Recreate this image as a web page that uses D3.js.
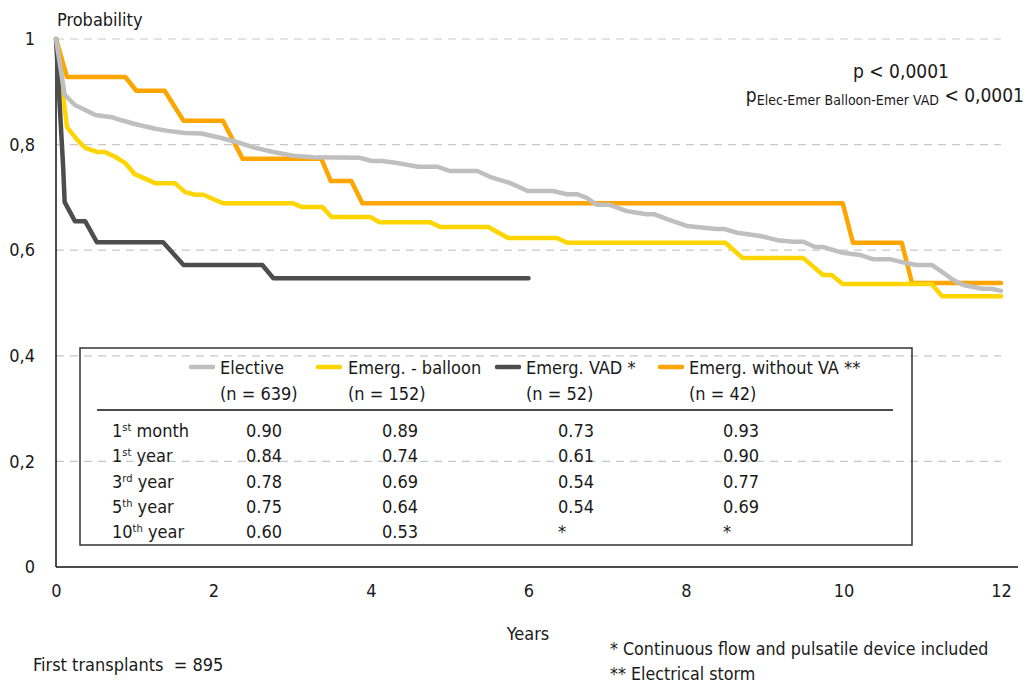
<!DOCTYPE html>
<html>
<head>
<meta charset="utf-8">
<script src="https://cdn.jsdelivr.net/npm/d3@7"></script>
<style>
  body { margin: 0; background: #fff; }
  svg text { font-family: 'Liberation Sans Narrow', 'Arial Narrow', 'DejaVu Sans Condensed', sans-serif; fill: #1a1a1a; white-space: pre; }
</style>
</head>
<body>
<div id="chart"></div>
<script>
// survival curves, [years, probability]
var elective = [[0,1],[0.11,0.894],[0.24,0.875],[0.5,0.856],[0.71,0.852],[0.81,0.847],[1.0,0.839],[1.26,0.83],[1.42,0.826],[1.64,0.822],[1.85,0.821],[2.11,0.812],[2.34,0.803],[2.5,0.795],[2.76,0.786],[3.01,0.779],[3.27,0.776],[3.86,0.775],[4.01,0.769],[4.14,0.769],[4.33,0.765],[4.6,0.758],[4.85,0.758],[5.0,0.75],[5.35,0.75],[5.51,0.739],[5.77,0.727],[5.99,0.712],[6.31,0.712],[6.49,0.706],[6.62,0.706],[6.74,0.699],[6.87,0.686],[7.03,0.686],[7.25,0.674],[7.42,0.67],[7.5,0.668],[7.6,0.668],[7.76,0.659],[8.01,0.646],[8.39,0.64],[8.49,0.64],[8.65,0.633],[8.94,0.627],[9.16,0.619],[9.36,0.616],[9.49,0.616],[9.64,0.606],[9.74,0.606],[9.99,0.595],[10.21,0.591],[10.37,0.583],[10.59,0.583],[10.78,0.576],[10.93,0.572],[11.12,0.572],[11.25,0.559],[11.39,0.544],[11.52,0.534],[11.76,0.527],[11.88,0.527],[12.0,0.523]];
var balloon = [[0,1],[0.14,0.833],[0.27,0.809],[0.37,0.794],[0.52,0.786],[0.62,0.786],[0.75,0.777],[0.88,0.765],[1.0,0.744],[1.26,0.727],[1.51,0.727],[1.64,0.71],[1.77,0.705],[1.87,0.705],[2.12,0.689],[3.0,0.689],[3.12,0.682],[3.38,0.682],[3.5,0.663],[3.99,0.663],[4.11,0.653],[4.75,0.653],[4.88,0.644],[5.49,0.644],[5.74,0.623],[6.36,0.623],[6.49,0.614],[8.5,0.614],[8.72,0.585],[9.49,0.585],[9.74,0.553],[9.85,0.553],[9.99,0.536],[11.12,0.536],[11.25,0.513],[12.0,0.513]];
var vad = [[0,1],[0.09,0.76],[0.11,0.691],[0.24,0.655],[0.37,0.655],[0.52,0.615],[1.36,0.615],[1.62,0.572],[2.62,0.572],[2.76,0.547],[6.0,0.547]];
var withoutVA = [[0,1],[0.14,0.928],[0.88,0.928],[1.02,0.902],[1.38,0.902],[1.62,0.845],[2.12,0.845],[2.37,0.773],[3.37,0.773],[3.49,0.731],[3.75,0.731],[3.89,0.689],[9.99,0.689],[10.12,0.614],[10.74,0.614],[10.87,0.538],[12.0,0.538]];

var xTicks = [0,2,4,6,8,10,12];
var yTicks = [0,0.2,0.4,0.6,0.8,1];

// legend / table
var groupNames = ["Elective","Emerg. - balloon","Emerg. VAD *","Emerg. without VA **"];
var groupCounts = ["(n = 639)","(n = 152)","(n = 52)","(n = 42)"];
var rowLabels = [["1","st"," month"],["1","st"," year"],["3","rd"," year"],["5","th"," year"],["10","th"," year"]];
var electiveRates = ["0.90","0.84","0.78","0.75","0.60"];
var balloonRates = ["0.89","0.74","0.69","0.64","0.53"];
var vadRates = ["0.73","0.61","0.54","0.54","*"];
var withoutVARates = ["0.93","0.90","0.77","0.69","*"];

var width = 1027, height = 684;
var colors = ["#bfbfbf","#ffd500","#4d4d4d","#ffa500"];

var svg = d3.select("#chart").append("svg")
  .attr("width", width)
  .attr("height", height);

var x = d3.scaleLinear().domain([0,12]).range([56,1001]);
var y = d3.scaleLinear().domain([0,1]).range([567,39]);

// dashed grid
svg.append("g")
  .selectAll("line")
  .data(yTicks.filter(function(d){ return d > 0; }))
  .enter()
  .append("line")
  .attr("x1", x(0))
  .attr("x2", x(12))
  .attr("y1", function(d){ return y(d); })
  .attr("y2", function(d){ return y(d); })
  .attr("stroke", "#c8c8c8")
  .attr("stroke-width", 1.2)
  .attr("stroke-dasharray", "8,6");

// axes
var yAxis = d3.axisLeft(y).tickValues(yTicks).tickSize(0).tickPadding(21)
  .tickFormat(function(d){ return String(d).replace(".", ","); });
svg.append("g")
  .attr("transform", "translate(" + x(0) + ",0)")
  .call(yAxis)
  .call(function(g){ g.select(".domain").remove(); })
  .selectAll("text")
  .attr("font-size", "18px")
  .attr("fill", "#1a1a1a");

var xAxis = d3.axisBottom(x).tickValues(xTicks).tickSize(0).tickPadding(17);
svg.append("g")
  .attr("transform", "translate(0," + y(0) + ")")
  .call(xAxis)
  .call(function(g){ g.select(".domain").remove(); })
  .selectAll("text")
  .attr("font-size", "18px")
  .attr("fill", "#1a1a1a");

svg.append("line")
  .attr("x1", x(0)).attr("x2", x(0))
  .attr("y1", y(1)).attr("y2", y(0))
  .attr("stroke", "#111").attr("stroke-width", 1.5);
svg.append("line")
  .attr("x1", x(0)).attr("x2", x(12) + 17)
  .attr("y1", y(0)).attr("y2", y(0))
  .attr("stroke", "#111").attr("stroke-width", 1.5);

// curves
var line = d3.line()
  .x(function(d){ return x(d[0]); })
  .y(function(d){ return y(d[1]); });

var series = [
  {data: withoutVA, color: colors[3]},
  {data: balloon, color: colors[1]},
  {data: vad, color: colors[2]},
  {data: elective, color: colors[0]}
];
svg.append("g")
  .selectAll("path")
  .data(series)
  .enter()
  .append("path")
  .attr("d", function(d){ return line(d.data); })
  .attr("fill", "none")
  .attr("stroke", function(d){ return d.color; })
  .attr("stroke-width", 4.5)
  .attr("stroke-linejoin", "round")
  .attr("stroke-linecap", "round");

// labels
svg.append("text").attr("x", 57).attr("y", 26).attr("font-size", "18px").text("Probability");
svg.append("text").attr("x", 528).attr("y", 640).attr("text-anchor", "middle").attr("font-size", "18px").text("Years");
svg.append("text").attr("x", 33).attr("y", 671).attr("font-size", "18px").text("First transplants  = 895");
svg.append("text").attr("x", 610).attr("y", 655).attr("font-size", "17.7px").text("* Continuous flow and pulsatile device included");
svg.append("text").attr("x", 610).attr("y", 680).attr("font-size", "17.7px").text("** Electrical storm");

svg.append("text").attr("x", 901).attr("y", 78).attr("text-anchor", "middle").attr("font-size", "19px").text("p < 0,0001");
var pt = svg.append("text").attr("x", 1024).attr("y", 102).attr("text-anchor", "end").attr("font-size", "19px");
pt.append("tspan").text("p");
pt.append("tspan").attr("font-size", "14px").attr("dy", 3).text("Elec-Emer Balloon-Emer VAD");
pt.append("tspan").attr("dy", -3).text(" < 0,0001");

// legend box + table
var box = svg.append("g");
box.append("rect")
  .attr("x", 80).attr("y", 348).attr("width", 832).attr("height", 197)
  .attr("fill", "none").attr("stroke", "#333").attr("stroke-width", 1.5);
box.append("line")
  .attr("x1", 97).attr("x2", 893).attr("y1", 410).attr("y2", 410)
  .attr("stroke", "#111").attr("stroke-width", 1.5);

var swatchX = [191, 318, 497, 660];
var textX = [220, 348, 526, 689];
var colX = [246, 382, 558, 723];

var legendItem = box.selectAll("g.leg")
  .data(groupNames)
  .enter()
  .append("g")
  .attr("class", "leg");
legendItem.append("line")
  .attr("x1", function(d,i){ return swatchX[i]; })
  .attr("x2", function(d,i){ return swatchX[i] + 22; })
  .attr("y1", 367).attr("y2", 367)
  .attr("stroke", function(d,i){ return colors[i]; })
  .attr("stroke-width", 4.5)
  .attr("stroke-linecap", "round");
legendItem.append("text")
  .attr("x", function(d,i){ return textX[i]; })
  .attr("y", 374)
  .attr("font-size", "18px")
  .text(function(d){ return d; });
legendItem.append("text")
  .attr("x", function(d,i){ return textX[i]; })
  .attr("y", 400)
  .attr("font-size", "18px")
  .text(function(d,i){ return groupCounts[i]; });

var rowY = function(i){ return 437 + i * 25.3; };
var rowLab = box.selectAll("text.row")
  .data(rowLabels)
  .enter()
  .append("text")
  .attr("class", "row")
  .attr("x", 112)
  .attr("y", function(d,i){ return rowY(i); })
  .attr("font-size", "18px");
rowLab.append("tspan").text(function(d){ return d[0]; });
rowLab.append("tspan").attr("font-size", "11px").attr("dy", -6).text(function(d){ return d[1]; });
rowLab.append("tspan").attr("dy", 6).text(function(d){ return d[2]; });

[electiveRates, balloonRates, vadRates, withoutVARates].forEach(function(col, c){
  box.append("g")
    .selectAll("text")
    .data(col)
    .enter()
    .append("text")
    .attr("x", colX[c])
    .attr("y", function(d,i){ return rowY(i); })
    .attr("font-size", "18px")
    .text(function(d){ return d; });
});
</script>
</body>
</html>
